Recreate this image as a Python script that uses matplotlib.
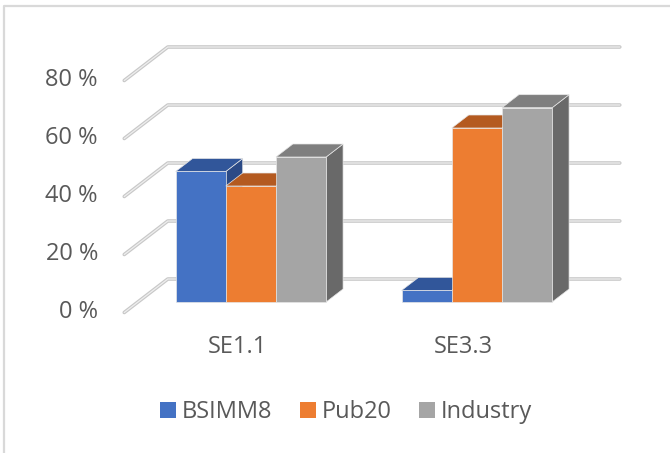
import matplotlib
matplotlib.use("Agg")
import matplotlib.pyplot as plt
from matplotlib.patches import Polygon, Patch
from matplotlib.lines import Line2D

# data
categories = ["SE1.1", "SE3.3"]
series = ["BSIMM8", "Pub20", "Industry"]
bsimm8 = [45, 4]
pub20 = [40, 60]
industry = [50, 67]
yticks = [0, 20, 40, 60, 80]

values = [bsimm8, pub20, industry]
front_colors = ["#4472C4", "#ED7D31", "#A5A5A5"]
top_colors = ["#31569A", "#B45A20", "#7F7F7F"]
side_colors = ["#2B4A86", "#9C4E1B", "#696969"]
text_color = "#595959"

plt.rcParams["font.family"] = ["Open Sans", "DejaVu Sans"]

W, H = 670, 453
fig = plt.figure(figsize=(W / 100, H / 100), dpi=100)
ax = fig.add_axes([0, 0, 1, 1])
ax.set_axis_off()

# pixel scales -> data: 1 category = 226 px, 1 % = 2.9 px
px_x = 226.0
px_y = 2.9
ax.set_xlim(-250.9 / px_x, (W - 250.9) / px_x)
ax.set_ylim(-(H - 302) / px_y, 302 / px_y)


def depth(d):
    # oblique offset for a depth of d pixels (up and to the right)
    return 1.3 * d / px_x, d / px_y


bx, by = depth(23)      # back wall
fx, fy = depth(-10.5)   # floor front edge
dx, dy = depth(13)      # bar depth
bar_w = 0.222

# gridlines on back wall + side wall
for p in yticks:
    xs = [1.5 + bx, -0.5 + bx, -0.5 + fx]
    ys = [p + by, p + by, p + fy]
    ax.plot(xs, ys, color="#c8c8c8", lw=2.6, solid_capstyle="round",
            solid_joinstyle="round", zorder=1)
    ax.plot(xs, ys, color="#eeeeee", lw=0.9, solid_capstyle="round",
            solid_joinstyle="round", zorder=1.1)
    ax.text(-0.677, p + fy, f"{p} %", ha="right", va="center",
            fontsize=17, color=text_color)

# bars, left to right so the next bar covers the previous side
z = 2
for i, cat in enumerate(categories):
    for s in range(len(series)):
        h = values[s][i]
        x0 = i - 1.5 * bar_w + s * bar_w
        x1 = x0 + bar_w
        ec = "#e6e6e6"
        front = Polygon([(x0, 0), (x1, 0), (x1, h), (x0, h)],
                        facecolor=front_colors[s], edgecolor=ec, lw=0.5, zorder=z)
        top = Polygon([(x0, h), (x1, h), (x1 + dx, h + dy), (x0 + dx, h + dy)],
                      facecolor=top_colors[s], edgecolor=ec, lw=0.5, zorder=z)
        side = Polygon([(x1, 0), (x1, h), (x1 + dx, h + dy), (x1 + dx, dy)],
                       facecolor=side_colors[s], edgecolor=ec, lw=0.5, zorder=z)
        ax.add_patch(side)
        ax.add_patch(top)
        ax.add_patch(front)
        z += 1
    ax.text(i + fx, -(347 - 302) / px_y, cat, ha="center", va="center",
            fontsize=17, color=text_color)

# legend
handles = [Patch(facecolor=c, edgecolor="none", label=n)
           for c, n in zip(front_colors, series)]
leg = fig.legend(handles=handles, loc="center", bbox_to_anchor=(346 / W, 41 / H),
                 ncol=3, frameon=False, fontsize=17, handlelength=0.68,
                 handleheight=0.68, handletextpad=0.25, columnspacing=1.15,
                 borderpad=0, borderaxespad=0)
for t in leg.get_texts():
    t.set_color(text_color)

# chart frame (top and left edges visible)
fig.add_artist(Line2D([4 / W, 4 / W, 1], [0, 1 - 6 / H, 1 - 6 / H],
                      transform=fig.transFigure, color="#d9d9d9", lw=1.6))

fig.savefig("out.png", dpi=100)
